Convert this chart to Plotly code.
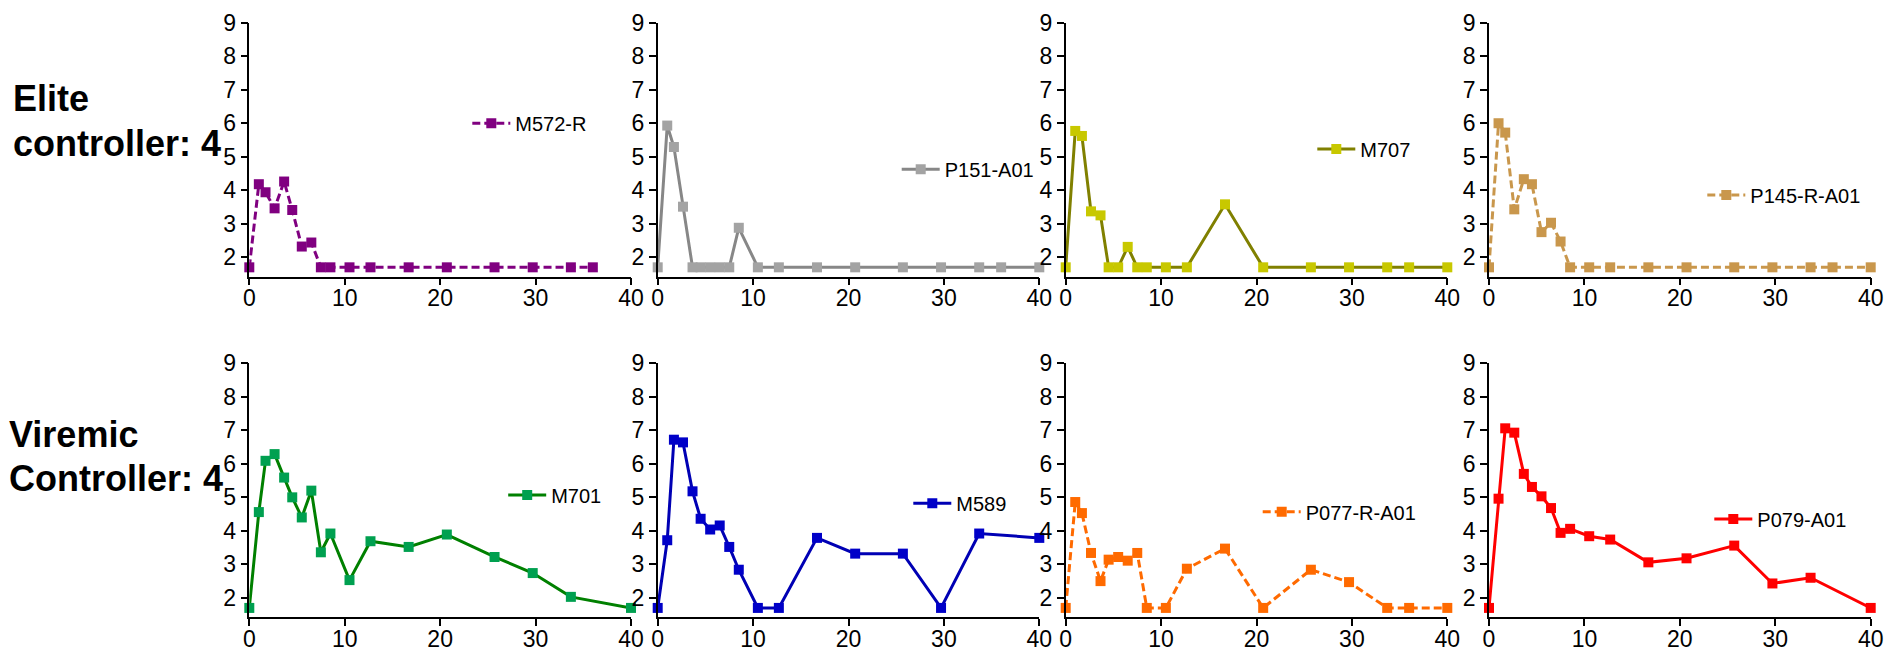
import plotly.graph_objects as go
from plotly.subplots import make_subplots

# ---- data (weeks vs log10 viral load) ----
weeks_m572 = [0, 1, 1.7, 2.65, 3.65, 4.5, 5.5, 6.5, 7.5, 8.5, 10.5, 12.7, 16.7, 20.7, 25.7, 29.7, 33.7, 36]
weeks_full = [0, 1, 1.7, 2.65, 3.65, 4.5, 5.5, 6.5, 7.5, 8.5, 10.5, 12.7, 16.7, 20.7, 25.7, 29.7, 33.7, 36, 40]
weeks_no36 = [0, 1, 1.7, 2.65, 3.65, 4.5, 5.5, 6.5, 7.5, 8.5, 10.5, 12.7, 16.7, 20.7, 25.7, 29.7, 33.7, 40]

m572_r = [1.7, 4.18, 3.94, 3.46, 4.26, 3.41, 2.32, 2.44, 1.7, 1.7, 1.7, 1.7, 1.7, 1.7, 1.7, 1.7, 1.7, 1.7]
p151_a01 = [1.7, 5.93, 5.29, 3.51, 1.7, 1.7, 1.7, 1.7, 1.7, 2.88, 1.7, 1.7, 1.7, 1.7, 1.7, 1.7, 1.7, 1.7, 1.7]
m707 = [1.7, 5.77, 5.62, 3.37, 3.25, 1.7, 1.7, 2.31, 1.7, 1.7, 1.7, 1.7, 3.58, 1.7, 1.7, 1.7, 1.7, 1.7, 1.7]
p145_r_a01 = [1.7, 6.0, 5.72, 3.43, 4.33, 4.18, 2.75, 3.03, 2.47, 1.7, 1.7, 1.7, 1.7, 1.7, 1.7, 1.7, 1.7, 1.7, 1.7]
m701 = [1.7, 4.56, 6.09, 6.29, 5.59, 5.0, 4.40, 5.20, 3.36, 3.92, 2.53, 3.69, 3.52, 3.89, 3.22, 2.74, 2.03, 1.7]
m589 = [1.7, 3.72, 6.72, 6.64, 5.18, 4.36, 4.04, 4.16, 3.52, 2.84, 1.7, 1.7, 3.79, 3.32, 3.32, 1.7, 3.92, 3.79]
p077_r_a01 = [1.7, 4.86, 4.53, 3.34, 2.5, 3.14, 3.22, 3.11, 3.34, 1.7, 1.7, 2.87, 3.47, 1.7, 2.84, 2.47, 1.7, 1.7, 1.7]
p079_a01 = [1.7, 4.96, 7.06, 6.93, 5.70, 5.31, 5.03, 4.68, 3.94, 4.06, 3.84, 3.74, 3.06, 3.18, 3.56, 2.43, 2.60, 1.7]

names = ["M572-R", "P151-A01", "M707", "P145-R-A01", "M701", "M589", "P077-R-A01", "P079-A01"]
xs = [weeks_m572, weeks_full, weeks_full, weeks_full, weeks_no36, weeks_no36, weeks_full, weeks_no36]
ys = [m572_r, p151_a01, m707, p145_r_a01, m701, m589, p077_r_a01, p079_a01]
row_labels = [["Elite", "controller: 4"], ["Viremic", "Controller: 4"]]
x_ticks = [0, 10, 20, 30, 40]

# ---- styles ----
line_colors = ["#800080", "#878787", "#808000", "#c9974c", "#008000", "#0000b4", "#ff6a00", "#ff0000"]
marker_colors = ["#800080", "#a3a3a3", "#c8c800", "#c9974c", "#00a050", "#0000c8", "#ff6a00", "#ff0000"]
dashes = ["8px,4px", "solid", "solid", "8px,4px", "solid", "solid", "8px,4px", "solid"]

W, H = 1900, 652
col_px = [(249.3, 631.0), (657.7, 1039.3), (1065.7, 1447.3), (1489.0, 1870.7)]
row_px = [(22.7, 276.7), (363.3, 617.3)]
# (line start x, centre y) of each in-panel legend
legend_px = [(472.3, 123.3), (901.7, 169.3), (1317.3, 149), (1707.3, 195),
             (508.2, 495), (913.3, 503.3), (1262.7, 511.7), (1714.3, 519)]
LABEL_FS = 36
TICK_FS = 23
# (left x, baseline y) of row-label lines
label_px = [[(12, 107.3), (12, 151.7)], [(8, 442.7), (8, 487.3)]]

FONT = "Liberation Sans, Arial, sans-serif"

fig = make_subplots(rows=2, cols=4)

for i in range(8):
    r, c = i // 4 + 1, i % 4 + 1
    leg = "legend" if i == 0 else f"legend{i+1}"
    fig.add_trace(go.Scatter(
        x=xs[i], y=ys[i], name=names[i], mode="lines+markers",
        line=dict(color=line_colors[i], width=3, dash=dashes[i]),
        marker=dict(symbol="square", size=10, color=marker_colors[i], line=dict(width=0)),
        cliponaxis=False, legend=leg, showlegend=True,
    ), row=r, col=c)

layout_upd = {}
for i in range(8):
    r, c = i // 4, i % 4
    suffix = "" if i == 0 else str(i + 1)
    x0, x1 = col_px[c]
    y0, y1 = row_px[r]
    layout_upd[f"xaxis{suffix}"] = dict(
        domain=[x0 / W, x1 / W], range=[0, 40], tickvals=x_ticks,
        showline=True, linecolor="black", linewidth=1.5, ticks="outside",
        ticklen=7, tickwidth=1.5, tickcolor="black", showgrid=False, zeroline=False,
        ticklabelstandoff=-7,
        tickfont=dict(family=FONT, size=TICK_FS, color="black"), automargin=False,
    )
    layout_upd[f"yaxis{suffix}"] = dict(
        domain=[1 - y1 / H, 1 - y0 / H], range=[1.42, 9], tick0=0, dtick=1,
        showline=True, linecolor="black", linewidth=1.5, ticks="outside",
        ticklen=7, tickwidth=1.5, tickcolor="black", showgrid=False, zeroline=False,
        tickfont=dict(family=FONT, size=TICK_FS, color="black"), automargin=False,
    )
    lx, ly = legend_px[i]
    leg = "legend" if i == 0 else f"legend{i+1}"
    layout_upd[leg] = dict(
        x=(lx - 5) / W, y=1 - ly / H, xanchor="left", yanchor="middle",
        xref="paper", yref="paper", bgcolor="rgba(0,0,0,0)", borderwidth=0,
        itemwidth=38, font=dict(family=FONT, size=20, color="black"),
    )

fig.update_layout(**layout_upd)

annotations = []
for r in range(2):
    for j in range(2):
        lx, base = label_px[r][j]
        centre = base - 0.24 * LABEL_FS
        annotations.append(dict(
            text=f"<b>{row_labels[r][j]}</b>", x=lx / W, y=1 - centre / H,
            xref="paper", yref="paper", xanchor="left", yanchor="middle",
            showarrow=False, borderpad=0,
            font=dict(family=FONT, size=LABEL_FS, color="black"),
        ))

fig.update_layout(
    width=W, height=H, margin=dict(l=0, r=0, t=0, b=0, autoexpand=False),
    paper_bgcolor="white", plot_bgcolor="white",
    annotations=annotations, font=dict(family=FONT),
)

fig.write_html("out.html")
